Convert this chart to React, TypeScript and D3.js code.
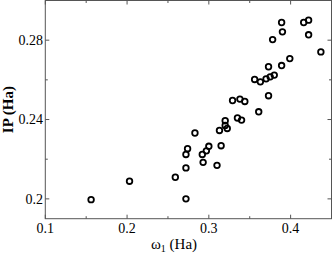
import React from "react";
import * as d3 from "d3";

const omega1: number[] = [
  0.156, 0.203, 0.259, 0.272, 0.272, 0.272, 0.274, 0.283, 0.292, 0.293,
  0.297, 0.300, 0.310, 0.315, 0.313, 0.320, 0.320, 0.3225, 0.329, 0.335,
  0.338, 0.340, 0.344, 0.356, 0.361, 0.363, 0.370, 0.373, 0.375, 0.380,
  0.373, 0.389, 0.399, 0.378, 0.390, 0.389, 0.416, 0.422, 0.422, 0.437,
];
const ip: number[] = [
  0.1996, 0.2089, 0.2109, 0.2156, 0.2000, 0.2224, 0.2253, 0.2332, 0.2224, 0.2184,
  0.2242, 0.2265, 0.2169, 0.2268, 0.2345, 0.2394, 0.2370, 0.2355, 0.2496, 0.2408,
  0.2503, 0.2397, 0.2491, 0.2602, 0.2439, 0.2590, 0.2605, 0.2520, 0.2615, 0.2624,
  0.2666, 0.2672, 0.2707, 0.2803, 0.2842, 0.2889, 0.2889, 0.2901, 0.2827, 0.2741,
];
const xMajor = [0.1, 0.2, 0.3, 0.4];
const xMinor = [0.15, 0.25, 0.35, 0.45];
const yMajor = [0.2, 0.24, 0.28];
const yMinor = [0.22, 0.26];
const xLabels = ["0.1", "0.2", "0.3", "0.4"];
const yLabels = ["0.2", "0.24", "0.28"];

export default function App() {
  const W = 332, H = 253;
  const L = 45.3, R = 331.5, T = 0.5, B = 218.7;
  const x = d3.scaleLinear().domain([0.1, 0.45]).range([L, R]);
  const y = d3.scaleLinear().domain([0.19, 0.30]).range([B, T]);
  const axisColor = "#555";
  const font = "'Liberation Serif', 'Times New Roman', serif";
  return (
    <svg width={W} height={H} style={{ position: "fixed", left: 0, top: 0, background: "#fff" }}>
      <rect x={L} y={T} width={R - L} height={B - T} fill="none" stroke={axisColor} strokeWidth={1} />
      {xMajor.map((v) => (
        <g key={"xM" + v}>
          <line x1={x(v)} x2={x(v)} y1={B} y2={B - 4} stroke={axisColor} />
          <line x1={x(v)} x2={x(v)} y1={T} y2={T + 4} stroke={axisColor} />
        </g>
      ))}
      {xMinor.map((v) => (
        <g key={"xm" + v}>
          <line x1={x(v)} x2={x(v)} y1={B} y2={B - 2.5} stroke={axisColor} />
          <line x1={x(v)} x2={x(v)} y1={T} y2={T + 2.5} stroke={axisColor} />
        </g>
      ))}
      {yMajor.map((v) => (
        <g key={"yM" + v}>
          <line x1={L} x2={L + 4} y1={y(v)} y2={y(v)} stroke={axisColor} />
          <line x1={R} x2={R - 4} y1={y(v)} y2={y(v)} stroke={axisColor} />
        </g>
      ))}
      {yMinor.map((v) => (
        <g key={"ym" + v}>
          <line x1={L} x2={L + 2.5} y1={y(v)} y2={y(v)} stroke={axisColor} />
          <line x1={R} x2={R - 2.5} y1={y(v)} y2={y(v)} stroke={axisColor} />
        </g>
      ))}
      {xMajor.map((v, i) => (
        <text key={"xl" + v} x={x(v)} y={233} textAnchor="middle" fontFamily={font} fontSize={14} fill="#000">
          {xLabels[i]}
        </text>
      ))}
      {yMajor.map((v, i) => (
        <text key={"yl" + v} x={43} y={y(v) + 4.8} textAnchor="end" fontFamily={font} fontSize={14} fill="#000">
          {yLabels[i]}
        </text>
      ))}
      <text x={174} y={249} textAnchor="middle" fontFamily={font} fontSize={15} fill="#000">
        ω<tspan fontSize={10} dy={3}>1</tspan>
        <tspan dy={-3}> (Ha)</tspan>
      </text>
      <text
        transform={`translate(13, ${(T + B) / 2}) rotate(-90)`}
        textAnchor="middle"
        fontFamily={font}
        fontSize={15}
        fontWeight="bold"
        fill="#000"
      >
        IP (Ha)
      </text>
      {omega1.map((v, i) => (
        <circle key={"p" + i} cx={x(v)} cy={y(ip[i])} r={2.8} fill="none" stroke="#000" strokeWidth={1.8} />
      ))}
    </svg>
  );
}
